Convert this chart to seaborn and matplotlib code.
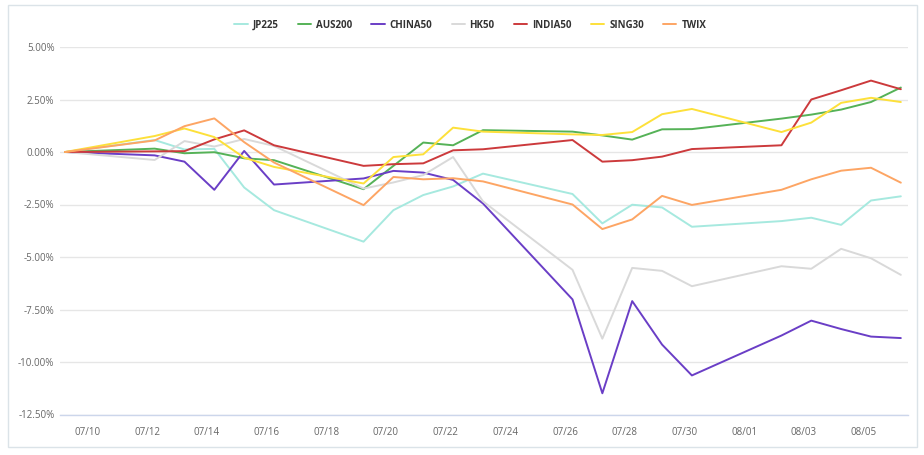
import matplotlib
matplotlib.use("Agg")
import matplotlib.pyplot as plt
import matplotlib.patches as mpatches
import numpy as np
import pandas as pd
import seaborn as sns

# ---- data ----
dates = ["2021-07-09", "2021-07-12", "2021-07-13", "2021-07-14", "2021-07-15", "2021-07-16",
         "2021-07-19", "2021-07-20", "2021-07-21", "2021-07-22", "2021-07-23",
         "2021-07-26", "2021-07-27", "2021-07-28", "2021-07-29", "2021-07-30",
         "2021-08-02", "2021-08-03", "2021-08-04", "2021-08-05", "2021-08-06"]

series_names = ["JP225", "AUS200", "CHINA50", "HK50", "INDIA50", "SING30", "TWIX"]

jp225 = [0, 0.57, 0.12, 0.15, -1.69, -2.77, -4.27, -2.77, -2.05, -1.64, -1.03,
         -2.0, -3.4, -2.51, -2.64, -3.56, -3.29, -3.13, -3.47, -2.31, -2.11]
aus200 = [0, 0.16, -0.06, -0.01, -0.3, -0.39, -1.77, -0.66, 0.45, 0.32, 1.04,
          0.97, 0.79, 0.59, 1.08, 1.09, 1.59, 1.78, 2.02, 2.38, 3.07]
china50 = [0, -0.16, -0.46, -1.8, 0.05, -1.55, -1.26, -0.9, -0.98, -1.33, -2.45,
           -7.02, -11.49, -7.1, -9.17, -10.64, -8.74, -8.03, -8.43, -8.79, -8.86]
hk50 = [0, -0.38, 0.52, 0.26, 0.62, 0.29, -1.74, -1.45, -1.1, -0.24, -2.35,
        -5.61, -8.89, -5.52, -5.66, -6.39, -5.44, -5.56, -4.61, -5.06, -5.85]
india50 = [0, 0.03, 0.04, 0.6, 1.03, 0.32, -0.66, -0.58, -0.54, 0.08, 0.13,
           0.57, -0.46, -0.39, -0.22, 0.14, 0.32, 2.5, 2.94, 3.4, 2.99]
sing30 = [0, 0.76, 1.12, 0.71, -0.27, -0.71, -1.5, -0.24, -0.11, 1.16, 0.97,
          0.84, 0.81, 0.95, 1.8, 2.05, 0.95, 1.4, 2.34, 2.58, 2.38]
twix = [0, 0.55, 1.23, 1.6, 0.47, -0.5, -2.53, -1.19, -1.3, -1.25, -1.4,
        -2.5, -3.67, -3.21, -2.09, -2.52, -1.8, -1.3, -0.89, -0.75, -1.46]

colors = ["#a6e9df", "#55b257", "#6a3ec6", "#d9d9d9", "#cc3a3c", "#fde03a", "#fda564"]

tick_dates = ["2021-07-10", "2021-07-12", "2021-07-14", "2021-07-16", "2021-07-18",
              "2021-07-20", "2021-07-22", "2021-07-24", "2021-07-26", "2021-07-28",
              "2021-07-30", "2021-08-01", "2021-08-03", "2021-08-05"]
tick_labels = ["07/10", "07/12", "07/14", "07/16", "07/18", "07/20", "07/22",
               "07/24", "07/26", "07/28", "07/30", "08/01", "08/03", "08/05"]
y_ticks = [5.0, 2.5, 0.0, -2.5, -5.0, -7.5, -10.0, -12.5]

# ---- build frame ----
values = [jp225, aus200, china50, hk50, india50, sing30, twix]
frames = []
for name, vals in zip(series_names, values):
    frames.append(pd.DataFrame({"date": pd.to_datetime(dates), "value": vals, "series": name}))
df = pd.concat(frames, ignore_index=True)

sns.set_theme(style="white")
plt.rcParams["font.family"] = ["Open Sans", "DejaVu Sans"]

fig = plt.figure(figsize=(9.24, 4.55), dpi=100)
ax = fig.add_axes([60 / 924, 1 - 414.5 / 455, 848 / 924, (414.5 - 47) / 455])

sns.lineplot(data=df, x="date", y="value", hue="series", hue_order=series_names,
             palette=colors, linewidth=1.4, ax=ax, legend=True)

# axes styling
start = pd.Timestamp(dates[0])
ax.set_xlim(start - pd.Timedelta(days=0.17), start + pd.Timedelta(days=28.24))
ax.set_ylim(-12.5, 5.0)
ax.set_yticks(y_ticks)
ax.set_yticklabels([f"{v:.2f}%" for v in y_ticks])
offset = pd.Timedelta(hours=6)
ax.set_xticks([pd.Timestamp(d) - offset for d in tick_dates])
ax.set_xticklabels(tick_labels)
ax.set_xlabel("")
ax.set_ylabel("")

ax.grid(axis="y", color="#e6e6e6", linewidth=1.0)
ax.grid(axis="x", visible=False)
ax.set_axisbelow(True)
for s in ["top", "right", "left"]:
    ax.spines[s].set_visible(False)
ax.spines["bottom"].set_color("#ccd6eb")
ax.spines["bottom"].set_linewidth(1.0)

ax.tick_params(axis="x", colors="#666666", labelsize=7, length=5, width=0.8,
               direction="out", pad=4, color="#ccd6eb")
ax.tick_params(axis="y", colors="#666666", labelsize=7, length=0, pad=4)
for lab in ax.get_xticklabels() + ax.get_yticklabels():
    lab.set_color("#666666")

# legend
handles, labels = ax.get_legend_handles_labels()
ax.get_legend().remove()
leg = fig.legend(handles, labels, loc="center", bbox_to_anchor=(0.509, 1 - 25 / 455),
                 ncol=7, frameon=False, handlelength=1.35, handletextpad=0.5,
                 columnspacing=2.0, prop={"size": 7, "weight": "bold"})
for t in leg.get_texts():
    t.set_color("#333333")

# outer border
border = mpatches.Rectangle((8 / 924, 1 - 447 / 455), (917 - 8) / 924, (447 - 5) / 455,
                            transform=fig.transFigure, fill=False,
                            edgecolor="#dbe3e8", linewidth=1.0)
fig.patches.append(border)

fig.savefig("out.png", dpi=100)
